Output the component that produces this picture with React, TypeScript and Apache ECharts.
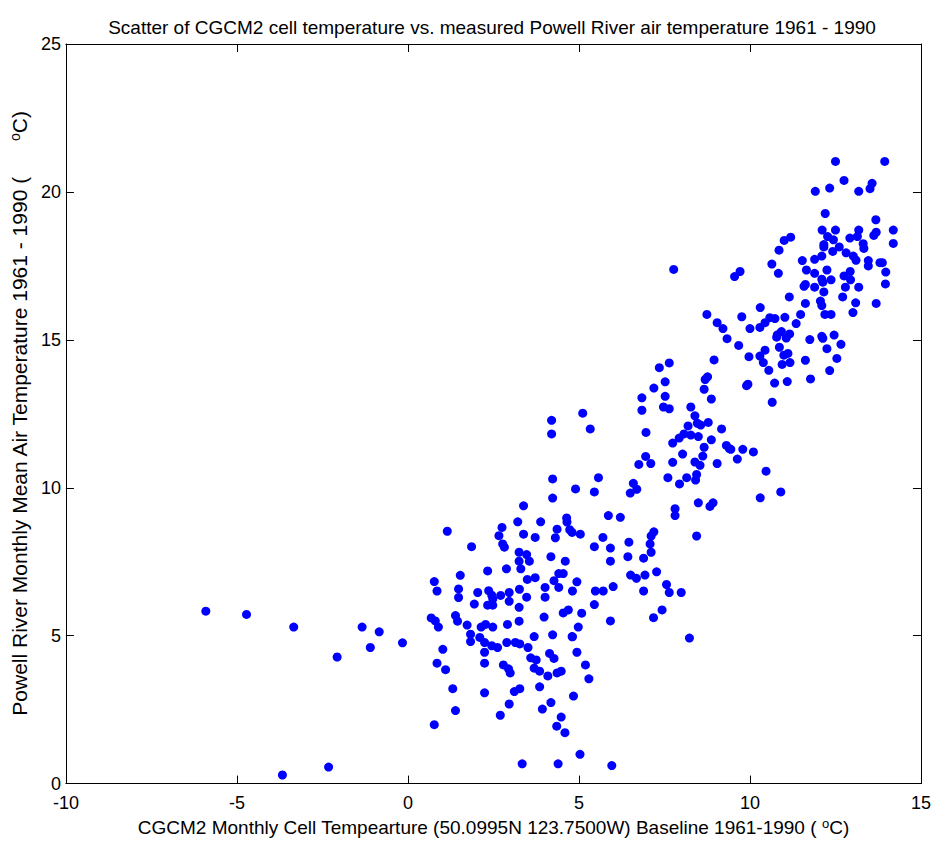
import React, { useEffect, useRef } from "react";
import * as echarts from "echarts";

const titleText =
  "Scatter of CGCM2 cell temperature vs. measured Powell River air temperature 1961 - 1990";
const xTicks = [-10, -5, 0, 5, 10, 15];
const yTicks = [0, 5, 10, 15, 20, 25];

// CGCM2 monthly cell temperature (x) and Powell River monthly mean air temperature (y)
const cellTemp = [
  -5.91, -4.72, -3.34, -1.34, -0.84, -2.07, -1.1, -0.16, -3.67, -2.32,
  0.68, 0.8, 0.89, 1.45, 1.73, 2.14, 2.27, 2.48, 2.91, 3.25,
  1.83, 1.83, 2.1, 2.24, 2.45, 2.62, 2.89, 3.14, 3.27, 3.69, 3.51, 4.23, 4.8,
  1.02, 2.24, 0.85, 1.1, 2.24, 2.79, 2.94, 2.99, 3.59, 3.75, 3.69, 3.85, 4.14, 4.27, 4.09, 4.36, 4.48, 4.84,
  1.31, 2.24, 3.11, 3.27, 3.85, 1.39, 2.96, 2.7, 4.18, 3.93, 0.77, 4.48, 4.35, 4.59, 3.34, 4.39,
  4.6, 4.94, 4.81, 5.48, 5.71, 6.0, 5.45, 4.69, 5.08, 5.92, 4.98, 4.81, 4.94, 5.19, 5.29, 5.03, 5.96,
  5.92, 6.43, 6.89, 7.11, 6.51, 6.68, 6.93, 7.27, 6.89, 7.56, 7.64, 7.99, 7.43, 7.18, 8.23,
  6.84, 7.52, 8.87, 6.84, 7.47, 7.64, 8.27, 5.11, 8.39, 8.46, 8.56, 8.78, 9.17, 8.19, 5.33, 6.96,
  8.07, 8.27, 8.49, 7.93, 7.74, 8.87, 9.31, 9.4, 8.66, 8.03, 8.62, 6.95, 6.75, 7.1, 7.74, 8.39,
  8.54, 9.04, 7.6, 8.15, 8.44, 8.41, 7.94, 5.57, 6.59, 6.69, 6.5, 4.9, 5.45, 8.49, 8.83, 8.92,
  7.81, 7.81, 4.64, 4.65, 5.86, 6.21, 4.73, 4.8, 5.04, 5.7, 7.19, 7.11, 7.08, 8.44, 5.45, 5.92, 6.46,
  4.23, 4.23, 3.38, 3.88, 3.21, 2.75, 2.66, 3.38, 3.72, 4.36, 4.31, 1.15, 1.86, 2.77, 2.82, 3.25,
  3.47, 3.25, 3.55, 4.18, 3.3, 2.88, 2.33, 1.53, 0.77, 0.85, 1.48, 1.48, 2.04, 1.94, 2.36, 2.45,
  2.48, 2.33, 2.48, 2.71, 2.96, 2.96, 3.26, 3.49, 3.72, 3.25, 3.47, 4.01, 4.01, 4.27, 4.41, 4.54,
  4.41, 1.39, 3.98, 4.54, 4.2, 4.2,
  9.33, 9.67, 9.97, 10.29, 10.44, 10.39, 10.55, 10.78, 11.06, 10.86, 10.99, 10.94, 11.11, 11.09,
  10.72, 10.65, 9.9, 9.94, 8.95, 7.64, 7.35, 7.52, 7.19, 8.69, 8.76, 8.66, 9.79, 10.1, 9.63, 9.44,
  10.47, 10.9, 10.3, 7.77,
  10.85, 10.64, 10.83, 11.53, 11.89, 12.1, 12.16, 12.42, 12.61, 12.81, 13.02, 13.1, 13.33, 13.46,
  13.46, 11.65, 11.89, 12.25, 12.1, 12.13, 12.37, 12.75, 12.93, 12.94, 12.79, 13.18, 11.58, 11.62,
  11.89, 12.16, 12.71, 13.09, 13.01, 12.06, 12.1, 12.19, 12.37, 11.62, 11.48, 11.35, 11.02, 11.15,
  10.3, 9.71, 9.55, 8.74, 9.04, 9.21, 9.76, 10.0, 10.29, 10.44, 10.58, 10.73, 10.92, 10.8, 11.16,
  11.17, 11.62, 11.75, 12.1, 12.13, 12.46, 12.66, 12.25, 12.54, 12.33, 11.77,
  12.5, 13.94, 12.75, 11.91, 12.33, 13.18, 13.57, 13.51, 12.2, 13.68, 12.11, 12.5, 13.18, 14.19,
  14.19, 13.69, 13.62, 13.14, 12.92, 12.27, 12.44, 12.16, 11.19, 11.0, 13.31, 13.8, 13.87, 13.97,
  13.96, 13.69,
];
const airTemp = [
  5.83, 5.72, 5.29, 5.29, 5.13, 4.28, 4.6, 4.76, 0.29, 0.56,
  5.6, 5.5, 5.29, 5.49, 5.36, 5.29, 5.38, 5.29, 5.38, 5.49,
  5.05, 4.8, 4.94, 4.77, 4.66, 4.6, 4.77, 4.77, 4.72, 4.97, 4.6, 5.03, 4.97,
  4.54, 4.44, 4.07, 3.85, 4.07, 4.01, 3.88, 3.74, 4.25, 4.18, 3.9, 3.8, 4.4, 4.23, 3.64, 3.74, 3.8, 2.96,
  3.21, 3.07, 3.11, 3.21, 3.27, 2.47, 2.69, 2.31, 2.74, 2.52, 1.99, 2.25, 1.94, 1.72, 0.67, 0.67,
  7.52, 6.82, 6.51, 6.51, 6.51, 6.66, 6.05, 5.87, 5.76, 5.5, 5.29, 4.96, 4.44, 4.01, 3.54, 0.99, 0.61,
  7.52, 7.67, 7.62, 7.82, 7.05, 6.94, 7.05, 7.16, 6.51, 6.73, 6.46, 6.46, 5.87, 5.61, 4.92,
  13.04, 13.09, 13.0, 12.62, 12.73, 12.67, 12.73, 12.52, 12.43, 12.18, 12.12, 12.21, 11.99, 12.09, 11.99, 11.87,
  11.82, 11.78, 11.73, 11.68, 11.51, 11.62, 11.43, 11.32, 11.37, 11.14, 11.07, 11.06, 10.79, 10.82, 10.86, 10.87,
  10.76, 10.82, 10.34, 10.34, 10.45, 10.26, 10.13, 10.34, 10.15, 9.95, 9.82, 9.96, 9.86, 9.49, 9.37, 9.49,
  9.29, 9.06, 8.98, 8.84, 9.06, 9.0, 8.58, 8.49, 8.43, 8.32, 8.51, 8.37, 8.1, 8.37, 8.01, 7.96, 8.16,
  10.3, 9.65, 9.39, 8.85, 8.85, 8.66, 8.38, 8.43, 8.32, 8.6, 8.31, 8.53, 8.01, 8.1, 7.99, 7.82,
  7.74, 7.52, 7.52, 7.67, 7.26, 7.26, 7.19, 7.04, 6.83, 6.51, 6.58, 6.29, 6.46, 6.07, 6.52, 6.37,
  6.24, 6.03, 6.03, 6.36, 6.46, 6.16, 6.57, 6.9, 6.96, 5.96, 6.3, 6.63, 6.3, 6.86, 7.1, 7.1,
  6.63, 5.68, 5.63, 5.77, 12.28, 11.82,
  15.04, 14.81, 14.43, 14.45, 14.65, 14.23, 13.97, 15.09, 15.06, 14.75, 14.48, 14.17, 14.54, 13.59,
  13.54, 12.89, 13.45, 13.5, 14.32, 14.22, 14.06, 13.58, 13.37, 13.66, 13.75, 13.33, 11.3, 11.21, 10.97, 11.3,
  10.56, 9.86, 9.66, 17.38,
  18.03, 17.56, 17.25, 17.68, 17.72, 17.83, 18.14, 17.99, 18.14, 17.94, 17.83, 17.69, 18.09, 17.68,
  17.5, 17.36, 17.25, 17.36, 17.05, 16.95, 17.03, 17.16, 17.31, 17.03, 16.78, 16.78, 16.81, 16.87,
  16.78, 16.62, 16.45, 16.25, 15.92, 16.31, 16.16, 15.86, 15.86, 16.23, 15.86, 15.55, 15.76, 16.45,
  16.09, 17.31, 17.14, 15.86, 15.58, 15.38, 15.78, 15.38, 15.42, 15.58, 15.75, 15.72, 15.28, 15.17, 15.2,
  14.23, 14.31, 15.01, 15.12, 15.05, 15.16, 14.85, 14.7, 14.37, 13.96, 13.68,
  21.03, 21.03, 20.39, 20.02, 20.13, 20.02, 20.29, 20.11, 19.27, 19.06, 18.71, 18.71, 18.71, 18.71,
  18.26, 18.64, 18.53, 18.49, 18.44, 18.49, 18.38, 18.22, 18.47, 18.36, 18.25, 17.61, 17.61, 17.29,
  16.89, 16.23,
];

const FONT = "Liberation Sans, Arial, sans-serif";
const FS = 19;
const TICK_FS = 18;

export default function App() {
  const ref = useRef<HTMLDivElement>(null);
  useEffect(() => {
    document.body.style.margin = "0";
    const chart = echarts.init(ref.current!, null, { renderer: "svg" });
    const n = Math.min(cellTemp.length, airTemp.length);
    const points: number[][] = [];
    for (let i = 0; i < n; i++) points.push([cellTemp[i], airTemp[i]]);

    const axisCommon = {
      axisLine: { show: true, onZero: false, lineStyle: { color: "#000", width: 1 } },
      axisTick: { show: true, inside: true, length: 8, lineStyle: { color: "#000" } },
      splitLine: { show: false },
    };
    const supStyle = { fontSize: 13, fontFamily: FONT, color: "#000", padding: [0, 0, 9, 0] };

    chart.setOption({
      animation: false,
      backgroundColor: "#fff",
      title: {
        text: titleText,
        left: 487,
        textAlign: "center",
        top: 13,
        textStyle: { fontFamily: FONT, fontSize: FS, fontWeight: "normal", color: "#000" },
      },
      grid: { left: 55, right: 13, top: 44, bottom: 50, containLabel: false },
      xAxis: [
        {
          type: "value",
          min: xTicks[0],
          max: xTicks[xTicks.length - 1],
          interval: 5,
          position: "bottom",
          ...axisCommon,
          axisLabel: { color: "#000", fontFamily: FONT, fontSize: TICK_FS, margin: 10 },
          name: "CGCM2 Monthly Cell Tempearture (50.0995N 123.7500W) Baseline 1961-1990 ( {sup|o}C)",
          nameLocation: "middle",
          nameGap: 30,
          nameTextStyle: {
            color: "#000",
            fontFamily: FONT,
            fontSize: FS,
            rich: { sup: supStyle },
          },
        },
        {
          type: "value",
          min: xTicks[0],
          max: xTicks[xTicks.length - 1],
          interval: 5,
          position: "top",
          ...axisCommon,
          axisLabel: { show: false },
        },
      ],
      yAxis: [
        {
          type: "value",
          min: yTicks[0],
          max: yTicks[yTicks.length - 1],
          interval: 5,
          position: "left",
          ...axisCommon,
          axisLabel: { color: "#000", fontFamily: FONT, fontSize: TICK_FS, margin: 5 },
          name: "Powell River Monthly Mean Air Temperature 1961 - 1990 (      {sup|o}C)",
          nameLocation: "middle",
          nameGap: 25,
          nameRotate: 90,
          nameTextStyle: {
            color: "#000",
            fontFamily: FONT,
            fontSize: 21,
            rich: { sup: { ...supStyle, fontSize: 14 } },
          },
        },
        {
          type: "value",
          min: yTicks[0],
          max: yTicks[yTicks.length - 1],
          interval: 5,
          position: "right",
          ...axisCommon,
          axisLabel: { show: false },
        },
      ],
      series: [
        {
          type: "scatter",
          xAxisIndex: 0,
          yAxisIndex: 0,
          data: points,
          symbol: "circle",
          symbolSize: 9,
          itemStyle: { color: "#0000ff", opacity: 1 },
          emphasis: { disabled: true },
        },
      ],
    });
    return () => chart.dispose();
  }, []);
  return (
    <div
      ref={ref}
      style={{ position: "absolute", left: 0, top: 0, width: 934, height: 842 }}
    />
  );
}
